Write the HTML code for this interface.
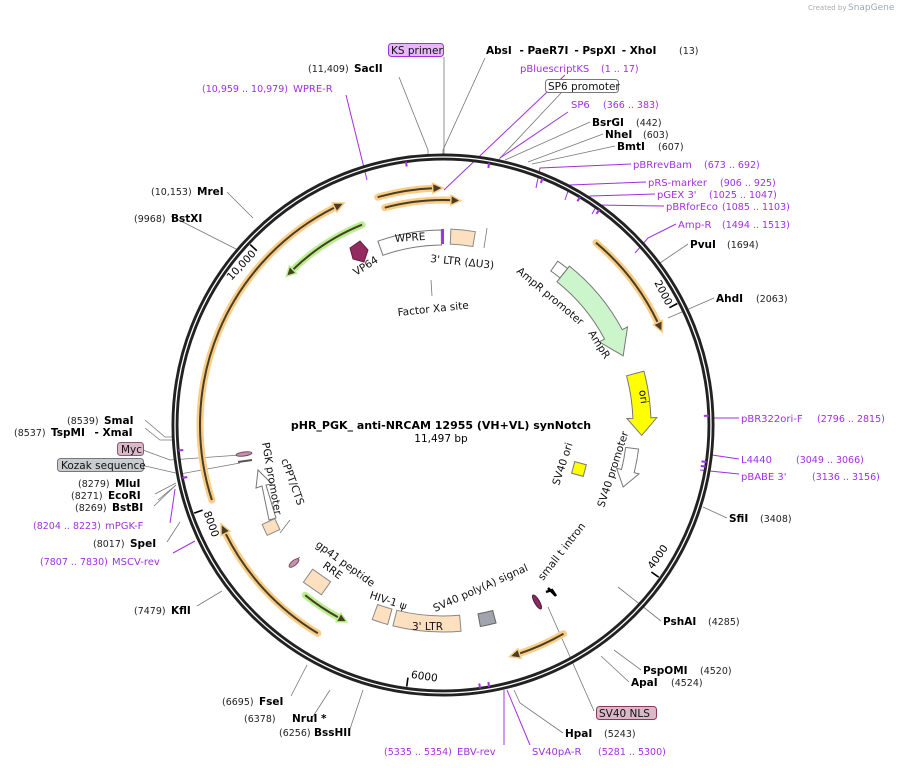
<!DOCTYPE html>
<html><head><meta charset="utf-8"><style>
html,body{margin:0;padding:0;background:#fff;width:903px;height:768px;overflow:hidden}
svg{display:block;font-family:"DejaVu Sans","Liberation Sans",sans-serif}
.b{font-weight:bold;font-size:10.5px;fill:#000}
.n{font-size:9.5px;fill:#222}
.p{font-size:10px;fill:#a030e0}
.pn{font-size:9.5px;fill:#a030e0}
.f{font-size:10.5px;fill:#111}
</style></head><body>
<svg id="s" width="903" height="768" viewBox="0 0 903 768">
<text x="808" y="10" font-size="7" fill="#aaa">Created by</text><text x="848" y="10" font-size="9" fill="#9ab">SnapGene</text>
<g id="lines" stroke="#777" stroke-width="0.8" fill="none">
<polyline points="444,57 444,160"/>
<polyline points="485,58 443,150 443,160"/>
<polyline points="399,77 428,150 428,160"/>
<polyline points="562,92 500,158 498,163"/>
<polyline points="590,122 505,160"/>
<polyline points="603,134 528,162"/>
<polyline points="615,146 532,164"/>
<polyline points="688,244 657,265"/>
<polyline points="714,298 668,318"/>
<polyline points="727,518 703,507"/>
<polyline points="661,621 618,587"/>
<polyline points="641,670 614,650"/>
<polyline points="629,682 601,656"/>
<polyline points="594,711 548,607"/>
<polyline points="563,733 520,703 514,690"/>
<polyline points="291,696 307,665"/>
<polyline points="312,718 330,690"/>
<polyline points="349,732 363,690"/>
<polyline points="197,606 222,591"/>
<polyline points="167,542 180,522"/>
<polyline points="158,500 176,485"/>
<polyline points="155,494 176,483"/>
<polyline points="154,506 176,485"/>
<polyline points="145,466 180,474 240,463"/>
<polyline points="143,450 170,460 240,455"/>
<polyline points="145,428 160,440 177,440"/>
<polyline points="145,420 165,437 177,437"/>
<polyline points="171,216 238,250"/>
<polyline points="227,192 253,218"/>
<polyline points="484,248 487,228"/>
<polyline points="432,296 431,280"/>
<polyline points="280,533 290,520"/>
<polyline points="300,557 292,563"/>
</g>
<g stroke="#a030e0" stroke-width="1" fill="none">
<polyline points="346,95 367,180"/>
<polyline points="565,75 444,190"/>
<polyline points="568,112 500,158"/>
<polyline points="631,164 540,168 536,188"/>
<polyline points="646,182 570,185 565,200"/>
<polyline points="655,194 590,196 586,202"/>
<polyline points="664,206 597,205 592,214"/>
<polyline points="676,224 648,238 635,253"/>
<polyline points="739,418 714,418"/>
<polyline points="739,459 712,455"/>
<polyline points="739,474 700,470"/>
<polyline points="170,523 172,510 175,489"/>
<polyline points="173,553 195,541"/>
<polyline points="504,745 504,690"/>
<polyline points="530,745 507,690"/>
</g>
<g id="dyn"></g>
<rect x="388.5" y="43.5" width="55" height="13" rx="3" fill="#e6b8f8" stroke="#a030e0"/>
<rect x="545.5" y="79.5" width="73" height="13" rx="3" fill="#fff" stroke="#777"/>
<rect x="117.5" y="442.5" width="26" height="13" rx="3" fill="#dbb8c8" stroke="#8a5a70"/>
<rect x="57.5" y="458.5" width="86" height="13" rx="3" fill="#c8cbd0" stroke="#777"/>
<rect x="596.5" y="706.5" width="60" height="13" rx="3" fill="#dbb8c8" stroke="#8a3a60"/>
<g class="f">
<text x="391" y="54" class="f">KS primer</text>
<text x="548" y="90" class="f">SP6 promoter</text>
<text x="121" y="453" class="f">Myc</text>
<text x="61" y="469" class="f">Kozak sequence</text>
<text x="599" y="717" class="f">SV40 NLS</text>
</g>
<text x="486" y="54" class="b">AbsI <tspan dx="4">- PaeR7I</tspan><tspan dx="6">- PspXI</tspan><tspan dx="6">- XhoI</tspan></text><text x="679" y="54" class="n">(13)</text>
<text x="308" y="72" class="n">(11,409)</text><text x="354" y="72" class="b">SacII</text>
<text x="202" y="92" class="pn">(10,959 .. 10,979)</text><text x="293" y="92" class="p">WPRE-R</text>
<text x="520" y="72" class="p">pBluescriptKS</text><text x="601" y="72" class="pn">(1 .. 17)</text>
<text x="571" y="108" class="p">SP6</text><text x="603" y="108" class="pn">(366 .. 383)</text>
<text x="592" y="126" class="b">BsrGI</text><text x="636" y="126" class="n">(442)</text>
<text x="605" y="138" class="b">NheI</text><text x="643" y="138" class="n">(603)</text>
<text x="617" y="150" class="b">BmtI</text><text x="658" y="150" class="n">(607)</text>
<text x="633" y="168" class="p">pBRrevBam</text><text x="704" y="168" class="pn">(673 .. 692)</text>
<text x="648" y="186" class="p">pRS-marker</text><text x="720" y="186" class="pn">(906 .. 925)</text>
<text x="657" y="198" class="p">pGEX 3'</text><text x="709" y="198" class="pn">(1025 .. 1047)</text>
<text x="666" y="210" class="p">pBRforEco</text><text x="722" y="210" class="pn">(1085 .. 1103)</text>
<text x="678" y="228" class="p">Amp-R</text><text x="722" y="228" class="pn">(1494 .. 1513)</text>
<text x="690" y="248" class="b">PvuI</text><text x="727" y="248" class="n">(1694)</text>
<text x="716" y="302" class="b">AhdI</text><text x="756" y="302" class="n">(2063)</text>
<text x="741" y="422" class="p">pBR322ori-F</text><text x="817" y="422" class="pn">(2796 .. 2815)</text>
<text x="741" y="463" class="p">L4440</text><text x="796" y="463" class="pn">(3049 .. 3066)</text>
<text x="741" y="480" class="p">pBABE 3'</text><text x="812" y="480" class="pn">(3136 .. 3156)</text>
<text x="729" y="522" class="b">SfiI</text><text x="760" y="522" class="n">(3408)</text>
<text x="663" y="625" class="b">PshAI</text><text x="708" y="625" class="n">(4285)</text>
<text x="643" y="674" class="b">PspOMI</text><text x="700" y="674" class="n">(4520)</text>
<text x="631" y="686" class="b">ApaI</text><text x="671" y="686" class="n">(4524)</text>
<text x="565" y="737" class="b">HpaI</text><text x="604" y="737" class="n">(5243)</text>
<text x="384" y="755" class="pn">(5335 .. 5354)</text><text x="457" y="755" class="p">EBV-rev</text>
<text x="532" y="755" class="p">SV40pA-R</text><text x="598" y="755" class="pn">(5281 .. 5300)</text>
<text x="222" y="705" class="n">(6695)</text><text x="259" y="705" class="b">FseI</text>
<text x="244" y="722" class="n">(6378)</text><text x="292" y="722" class="b">NruI *</text>
<text x="279" y="736" class="n">(6256)</text><text x="314" y="736" class="b">BssHII</text>
<text x="134" y="614" class="n">(7479)</text><text x="171" y="614" class="b">KflI</text>
<text x="40" y="565" class="pn">(7807 .. 7830)</text><text x="112" y="565" class="p">MSCV-rev</text>
<text x="93" y="547" class="n">(8017)</text><text x="130" y="547" class="b">SpeI</text>
<text x="33" y="529" class="pn">(8204 .. 8223)</text><text x="105" y="529" class="p">mPGK-F</text>
<text x="75" y="511" class="n">(8269)</text><text x="112" y="511" class="b">BstBI</text>
<text x="71" y="499" class="n">(8271)</text><text x="108" y="499" class="b">EcoRI</text>
<text x="78" y="487" class="n">(8279)</text><text x="115" y="487" class="b">MluI</text>
<text x="14" y="436" class="n">(8537)</text><text x="51" y="436" class="b">TspMI <tspan dx="6">- XmaI</tspan></text>
<text x="67" y="424" class="n">(8539)</text><text x="104" y="424" class="b">SmaI</text>
<text x="134" y="222" class="n">(9968)</text><text x="171" y="222" class="b">BstXI</text>
<text x="151" y="195" class="n">(10,153)</text><text x="197" y="195" class="b">MreI</text>
<text x="441" y="429" text-anchor="middle" font-weight="bold" font-size="11">pHR_PGK_ anti-NRCAM 12955 (VH+VL) synNotch</text>
<text x="441" y="442" text-anchor="middle" font-size="10.5">11,497 bp</text>
<g class="f">
<text transform="translate(395,242) rotate(-4)">WPRE</text>
<text transform="translate(430,262) rotate(6)">3' LTR (ΔU3)</text>
<text transform="translate(356,276) rotate(-32)">VP64</text>
<text transform="translate(398,316) rotate(-6)">Factor Xa site</text>
<text transform="translate(516,272) rotate(40)">AmpR promoter</text>
<text transform="translate(588,333) rotate(58)">AmpR</text>
<text transform="translate(559,486) rotate(-72)">SV40 ori</text>
<text transform="translate(604,508) rotate(-72)">SV40 promoter</text>
<text transform="translate(543,581) rotate(-52)">small t intron</text>
<text transform="translate(435,612) rotate(-24)">SV40 poly(A) signal</text>
<text transform="translate(369,598) rotate(18)">HIV-1 ψ</text>
<text x="412" y="630">3' LTR</text>
<text transform="translate(315,546) rotate(36)">gp41 peptide</text>
<text transform="translate(322,567) rotate(36)">RRE</text>
<text transform="translate(262,443) rotate(80)">PGK promoter</text>
<text transform="translate(281,460) rotate(70)">cPPT/CTS</text>
</g>
</svg>
<script>
var cx=443,cy=425,NS="http://www.w3.org/2000/svg",g=document.getElementById('dyn');
function P(r,a){a=a*Math.PI/180;return [cx+r*Math.sin(a),cy-r*Math.cos(a)];}
function arc(r,a1,a2){var p1=P(r,a1),p2=P(r,a2),sw=a2>a1?1:0,l=Math.abs(a2-a1)>180?1:0;return "M"+p1[0]+" "+p1[1]+" A"+r+" "+r+" 0 "+l+" "+sw+" "+p2[0]+" "+p2[1];}
function el(t,at){var e=document.createElementNS(NS,t);for(var k in at)e.setAttribute(k,at[k]);g.appendChild(e);return e;}
el('circle',{cx:cx,cy:cy,r:268,fill:'none',stroke:'#222',"stroke-width":7});
el('circle',{cx:cx,cy:cy,r:268,fill:'none',stroke:'#fff',"stroke-width":1.3});
[[62.6,"2000"],[125.2,"4000"],[187.9,"6000"],[250.5,"8000"],[313.1,"10,000"]].forEach(function(t){
 var a=P(264,t[0]),b=P(255,t[0]);el('line',{x1:a[0],y1:a[1],x2:b[0],y2:b[1],stroke:'#000',"stroke-width":1.6});
 var tx;
 if(t[0]<90||t[0]>270){var q=P(253,t[0]-0.6);tx=el('text',{x:0,y:0,"font-size":"10.5","text-anchor":"end",transform:"translate("+q[0]+","+q[1]+") rotate("+t[0]+")"});}
 else{var q=P(255,t[0]-0.6);tx=el('text',{x:0,y:0,"font-size":"10.5","text-anchor":"start",transform:"translate("+q[0]+","+q[1]+") rotate("+(t[0]-180)+")"});}
 tx.textContent=t[1];});
function orf(r,a1,a2,col){
 var d=a2>a1?1:-1,ae=a2-d*2.5;
 el('path',{d:arc(r,a1,ae),fill:'none',stroke:col,"stroke-width":7,"stroke-linecap":"round"});
 el('path',{d:arc(r,a1,ae),fill:'none',stroke:'#4a3d25',"stroke-width":2});
 var t=P(r,a2),u=P(r+5,ae),v=P(r-5,ae);
 el('polygon',{points:t+" "+u+" "+v,fill:'#4a3d25',stroke:col,"stroke-width":1.5});
}
orf(243,252,336,'#f9cd85');
orf(243,211,246,'#f9cd85');
orf(237,-16,0,'#f9cd85');
orf(225,-15,4.5,'#f9cd85');
orf(238,40,67,'#f9cd85');
orf(241,150,164,'#f9cd85');
orf(216,-22,-46.5,'#b8f090');
orf(219,219,206,'#b8f090');
function box(r1,r2,a1,a2,fill,stroke){var p1=P(r2,a1),p2=P(r2,a2),p3=P(r1,a2),p4=P(r1,a1);
 el('path',{d:"M"+p1+" A"+r2+" "+r2+" 0 0 1 "+p2+" L"+p3+" A"+r1+" "+r1+" 0 0 0 "+p4+" Z",fill:fill,stroke:stroke,"stroke-width":1});}
box(180,195,-19.5,-0.5,'#fff','#777');
box(181,196,2.3,9.5,'#fde0c0','#888');
box(181,196,-0.5,0.3,'#a030e0','none');
box(191,207,175,194,'#fde0c0','#888');
box(191,207,195.5,200,'#fde0c0','#888');
box(192,205,165,169.5,'#a0a4ac','#666');
(function(){var r1=183,r2=203,a1=38.5,a2=62,at=69;
 var p1=P(r2,a1),p2=P(r2,a2),h1=P(r2+6,a2),tip=P((r1+r2)/2,at),h2=P(r1-6,a2),p3=P(r1,a2),p4=P(r1,a1);
 el('path',{d:"M"+p1+" A"+r2+" "+r2+" 0 0 1 "+p2+" L"+h1+" L"+tip+" L"+h2+" L"+p3+" A"+r1+" "+r1+" 0 0 0 "+p4+" Z",fill:'#ccf5cc',stroke:'#777'});})();
box(188,200,35,38.5,'#fff','#777');
(function(){var r1=190,r2=208,a1=75,a2=88,at=93;
 var p1=P(r2,a1),p2=P(r2,a2),h1=P(r2+6,a2),tip=P((r1+r2)/2,at),h2=P(r1-6,a2),p3=P(r1,a2),p4=P(r1,a1);
 el('path',{d:"M"+p1+" A"+r2+" "+r2+" 0 0 1 "+p2+" L"+h1+" L"+tip+" L"+h2+" L"+p3+" A"+r1+" "+r1+" 0 0 0 "+p4+" Z",fill:'#ffff00',stroke:'#777'});
 var q=P(199,82);var t=el('text',{transform:"translate("+q[0]+","+q[1]+") rotate(82)","font-size":"10.5","text-anchor":"middle"});t.textContent="ori";})();
(function(){var r1=184,r2=197,a1=97,a2=104,at=109;
 var p1=P(r2,a1),p2=P(r2,a2),h1=P(r2+5,a2),tip=P((r1+r2)/2,at),h2=P(r1-5,a2),p3=P(r1,a2),p4=P(r1,a1);
 el('path',{d:"M"+p1+" A"+r2+" "+r2+" 0 0 1 "+p2+" L"+h1+" L"+tip+" L"+h2+" L"+p3+" A"+r1+" "+r1+" 0 0 0 "+p4+" Z",fill:'#fff',stroke:'#777'});})();
el('rect',{x:573,y:463,width:12,height:12,fill:'#ffff00',stroke:'#777',transform:"rotate(15 579 469)"});
el('path',{d:"M269 520 L262 486 L256 488 L258 470 L272 484 L266 485 L276 518 Z",fill:'#fff',stroke:'#777'});
el('rect',{x:264,y:521,width:14,height:12,fill:'#fde0c0',stroke:'#888',transform:"rotate(-25 271 527)"});
el('rect',{x:306,y:574,width:22,height:16,fill:'#fde0c0',stroke:'#888',transform:"rotate(35 317 582)"});
el('ellipse',{cx:294,cy:563,rx:6,ry:2.5,fill:'#c890b0',stroke:'#705060',transform:"rotate(-40 294 563)"});
el('ellipse',{cx:244,cy:454,rx:8,ry:2,fill:'#c890b0',stroke:'#705060',transform:"rotate(-8 244 454)"});
el('line',{x1:238,y1:462,x2:252,y2:460,stroke:'#555',"stroke-width":2});
el('ellipse',{cx:537,cy:602,rx:8,ry:2.5,fill:'#8a2a60',stroke:'#502040',transform:"rotate(60 537 602)"});
el('path',{d:"M548 588 L556 596 M546 592 L552 590 L556 596",stroke:'#000',"stroke-width":2.5,fill:'none'});
el('polygon',{points:"350,248 360,241 368,250 364,262 353,259",fill:'#952a60',stroke:'#602040'});
[352,10,22,31,36,88,98,99,170,172,264.5,258.5].forEach(function(x){var a=P(266,x),b=P(261,x);el('line',{x1:a[0],y1:a[1],x2:b[0],y2:b[1],stroke:'#a030e0',"stroke-width":2});});
</script>
</body></html>
